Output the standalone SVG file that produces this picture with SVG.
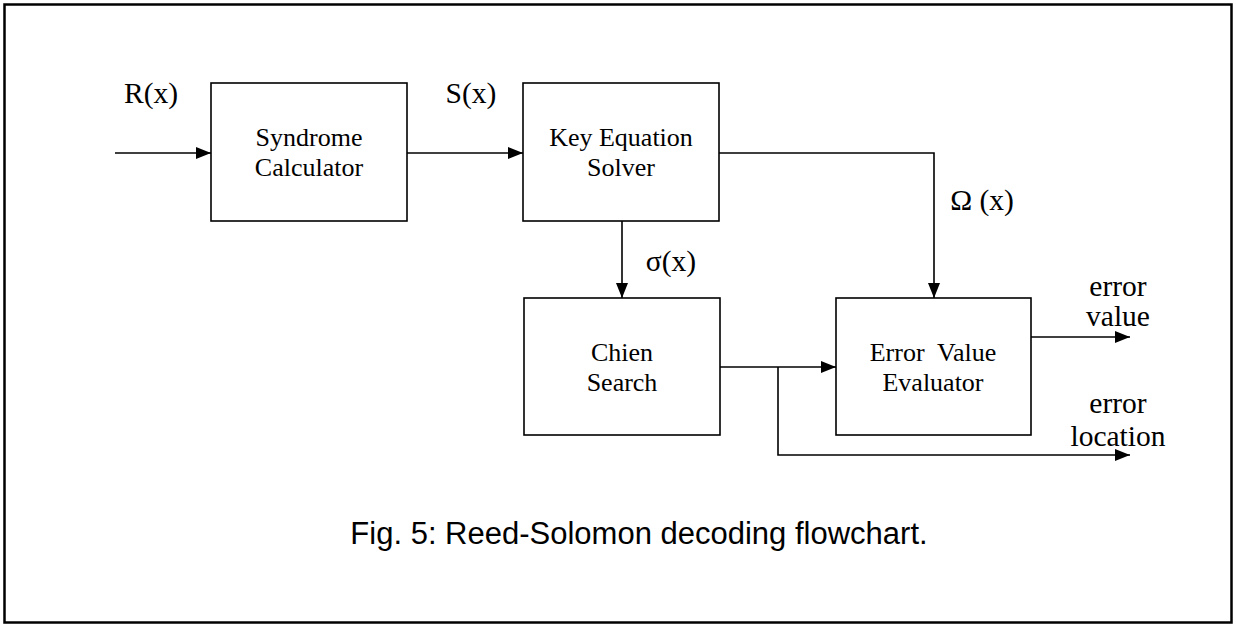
<svg xmlns="http://www.w3.org/2000/svg" width="1236" height="626" viewBox="0 0 1236 626">
<style>
.box{fill:#fff;stroke:#000;stroke-width:1.6}
.t{font-family:"Liberation Serif","Times New Roman",serif;font-size:26px;fill:#000;text-anchor:middle}
.lb{font-family:"Liberation Serif","Times New Roman",serif;font-size:29.5px;fill:#000;text-anchor:middle}
.ln{fill:none;stroke:#000;stroke-width:1.6}
.cap{font-family:"Liberation Sans",Arial,sans-serif;font-size:31px;fill:#000;text-anchor:middle}
</style>
<defs>
<marker id="ah" viewBox="0 0 15 12" refX="15" refY="6" markerWidth="15" markerHeight="12" markerUnits="userSpaceOnUse" orient="auto">
<path d="M0,0 L15,6 L0,12 Z" fill="#000"/>
</marker>
</defs>
<rect x="1" y="1" width="1234" height="624" fill="#fff"/>
<rect x="4.5" y="4.5" width="1227" height="618" fill="none" stroke="#000" stroke-width="2.5"/>
<g id="connectors">
<line class="ln" x1="115" y1="153" x2="211" y2="153" marker-end="url(#ah)"/>
<line class="ln" x1="407" y1="153" x2="523" y2="153" marker-end="url(#ah)"/>
<polyline class="ln" points="719,153 934,153 934,298" marker-end="url(#ah)"/>
<line class="ln" x1="622" y1="221" x2="622" y2="298" marker-end="url(#ah)"/>
<line class="ln" x1="720" y1="367" x2="836" y2="367" marker-end="url(#ah)"/>
<polyline class="ln" points="778,367 778,455 1130,455" marker-end="url(#ah)"/>
<line class="ln" x1="1031" y1="337" x2="1130" y2="337" stroke-width="2.6" marker-end="url(#ah)"/>
<text class="lb" x="151" y="103">R(x)</text>
<text class="lb" x="471" y="103">S(x)</text>
<text class="lb" x="982" y="210">Ω (x)</text>
<text class="lb" x="671" y="271">σ(x)</text>
<text class="lb" x="1118" y="296">error</text>
<text class="lb" x="1118" y="326">value</text>
<text class="lb" x="1118" y="413">error</text>
<text class="lb" x="1118" y="446">location</text>
</g>
<g id="syndrome">
<rect class="box" x="211" y="83" width="196" height="138"/>
<text class="t" x="309" y="146">Syndrome</text>
<text class="t" x="309" y="176">Calculator</text>
</g>
<g id="keyeq">
<rect class="box" x="523" y="83" width="196" height="138"/>
<text class="t" x="621" y="146">Key Equation</text>
<text class="t" x="621" y="176">Solver</text>
</g>
<g id="chien">
<rect class="box" x="524" y="298" width="196" height="137"/>
<text class="t" x="622" y="361">Chien</text>
<text class="t" x="622" y="391">Search</text>
</g>
<g id="evaluator">
<rect class="box" x="836" y="298" width="195" height="137"/>
<text class="t" x="933" y="361" xml:space="preserve">Error  Value</text>
<text class="t" x="933" y="391">Evaluator</text>
</g>
<text class="cap" x="639" y="544">Fig. 5: Reed-Solomon decoding flowchart.</text>
</svg>
